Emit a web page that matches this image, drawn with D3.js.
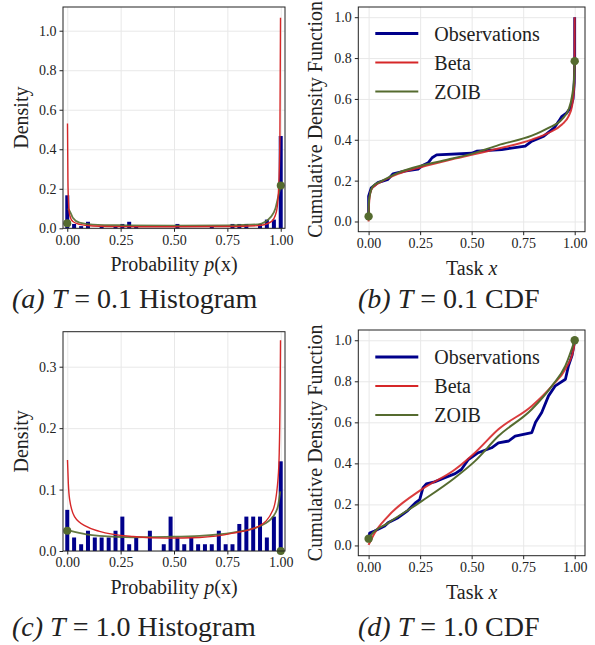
<!doctype html>
<html>
<head>
<meta charset="utf-8"/>
<script src="https://cdnjs.cloudflare.com/ajax/libs/d3/7.8.5/d3.min.js"></script>
<style>
  body { margin: 0; background: #fff; }
  text { font-family: "Liberation Serif", "DejaVu Serif", serif; fill: #222; }
  .grid line { stroke: #e8e8e8; stroke-width: 1; }
  .grid path { display: none; }
  .axis path { display: none; }
  .axis line { stroke: #222; }
  .axis text { font-size: 14px; }
  .frame { fill: none; stroke: #222; stroke-width: 1; }
</style>
</head>
<body>
<svg width="595" height="645"></svg>
<script>
// histogram bins (bar centres) and densities
var binCenters = [0.000,0.032,0.065,0.097,0.129,0.161,0.194,0.226,0.258,0.290,0.323,0.355,0.387,0.419,0.452,0.484,
                  0.516,0.548,0.581,0.613,0.645,0.677,0.710,0.742,0.774,0.806,0.839,0.871,0.903,0.935,0.968,1.000];
var histT01 = [0.167,0.022,0.011,0.033,0,0.011,0,0.011,0.022,0.033,0.011,0,0,0,0,0,
               0.022,0,0,0,0,0.011,0,0,0.022,0.022,0.022,0,0.022,0.044,0.044,0.467];
var histT10 = [0.067,0.022,0.011,0.033,0.022,0.022,0.022,0.033,0.056,0.011,0.022,0,0.033,0,0.011,0.056,
               0.022,0.011,0.022,0.011,0.011,0.011,0.033,0.011,0.011,0.044,0.056,0.056,0.056,0.022,0.056,0.146];

// fitted densities [x, density]
var betaPdfT01 = [[0.001,0.53],[0.003,0.25],[0.006,0.13],[0.011,0.068],[0.026,0.034],[0.057,0.02],[0.12,0.012],
                  [0.27,0.0085],[0.5,0.0075],[0.75,0.009],[0.894,0.0135],[0.956,0.034],[0.98,0.085],[0.99,0.2],
                  [0.996,0.45],[0.999,1.065]];
var zoibPdfT01 = [[0.003,0.1],[0.011,0.088],[0.026,0.054],[0.057,0.029],[0.12,0.019],[0.27,0.015],[0.5,0.013],
                  [0.75,0.015],[0.894,0.02],[0.956,0.06],[0.975,0.1],[0.988,0.16],[1.0,0.216]];
var betaPdfT10 = [[0.001,0.148],[0.005,0.11],[0.011,0.084],[0.034,0.056],[0.089,0.04],[0.151,0.032],[0.308,0.0235],
                  [0.464,0.021],[0.62,0.022],[0.776,0.029],[0.9,0.041],[0.964,0.067],[0.987,0.116],[0.993,0.16],
                  [0.997,0.25],[0.999,0.343]];
var zoibPdfT10 = [[0.0,0.034],[0.011,0.033],[0.089,0.027],[0.151,0.0246],[0.308,0.0224],[0.464,0.023],[0.62,0.0246],
                  [0.776,0.03],[0.9,0.04],[0.964,0.056],[0.987,0.073],[0.998,0.097]];
var zoibMassT01 = [[0,0.025],[1,0.216]];
var zoibMassT10 = [[0,0.033],[1,0.0]];

// CDFs  [x, F(x)]
var obsCdfT01 = [[0,0.02],[0.0,0.124],[0.005,0.14],[0.013,0.165],[0.045,0.19],[0.094,0.206],[0.118,0.233],
                 [0.175,0.246],[0.24,0.256],[0.257,0.271],[0.289,0.287],[0.308,0.312],[0.33,0.326],[0.5,0.334],
                 [0.524,0.344],[0.646,0.352],[0.76,0.369],[0.792,0.393],[0.85,0.418],[0.9,0.458],[0.922,0.49],
                 [0.938,0.515],[0.96,0.53],[0.98,0.556],[0.992,0.6],[0.998,0.68],[1.0,0.79],[1.0,1.0]];
var betaCdfT01 = [[0,0],[0.001,0.06],[0.004,0.11],[0.013,0.155],[0.03,0.175],[0.062,0.195],[0.143,0.233],
                  [0.257,0.267],[0.386,0.3],[0.516,0.33],[0.63,0.357],[0.792,0.401],[0.873,0.434],[0.938,0.475],
                  [0.97,0.515],[0.987,0.564],[0.995,0.63],[0.998,0.68],[0.9995,0.8],[1.0,1.0]];
var zoibCdfT01 = [[0,0.025],[0.001,0.09],[0.005,0.124],[0.021,0.173],[0.062,0.197],[0.143,0.238],[0.257,0.274],
                  [0.386,0.303],[0.516,0.336],[0.63,0.374],[0.792,0.42],[0.873,0.458],[0.938,0.5],[0.97,0.548],
                  [0.987,0.613],[0.997,0.7],[1.0,0.785]];
var zoibMassCdfT01 = [[0,0.025],[1,0.785]];

var obsCdfT10 = [[0,0.033],[0.005,0.06],[0.029,0.07],[0.078,0.095],[0.094,0.11],[0.143,0.135],[0.19,0.17],
                 [0.23,0.21],[0.248,0.223],[0.264,0.282],[0.28,0.3],[0.32,0.31],[0.37,0.33],[0.42,0.35],[0.45,0.37],
                 [0.484,0.419],[0.532,0.452],[0.597,0.476],[0.63,0.5],[0.68,0.509],[0.711,0.533],[0.792,0.55],
                 [0.81,0.6],[0.84,0.648],[0.873,0.729],[0.906,0.778],[0.955,0.81],[0.97,0.876],[0.987,0.925],
                 [1.0,0.998]];
var betaCdfT10 = [[0,0.003],[0.029,0.06],[0.094,0.142],[0.256,0.272],[0.419,0.37],[0.516,0.452],[0.63,0.566],
                  [0.792,0.68],[0.89,0.778],[0.955,0.86],[0.995,0.958],[1.0,1.0]];
var zoibCdfT10 = [[0,0.033],[0.013,0.052],[0.094,0.109],[0.256,0.215],[0.419,0.33],[0.516,0.411],[0.63,0.533],
                  [0.792,0.664],[0.89,0.778],[0.955,0.876],[1.0,1.0]];
var zoibMassCdfT10 = [[0,0.033],[1,1.0]];

var xTicks = [0, 0.25, 0.5, 0.75, 1.0];
var cdfTicks = [0, 0.2, 0.4, 0.6, 0.8, 1.0];
var legendNames = ["Observations", "Beta", "ZOIB"];

var NAVY = "#00008b", RED = "#d62728", GREEN = "#556b2f";

var svg = d3.select("svg");
svg.append("clipPath").attr("id", "rowTop").append("rect").attr("x", 0).attr("y", 0).attr("width", 595).attr("height", 318);
svg.append("clipPath").attr("id", "rowBot").append("rect").attr("x", 0).attr("y", 320).attr("width", 595).attr("height", 325);

function panel(o) {
  var g = svg.append("g").attr("clip-path", "url(#" + o.clip + ")");
  var x = d3.scaleLinear().domain(o.xDom).range([o.left, o.right]);
  var y = d3.scaleLinear().domain(o.yDom).range([o.bottom, o.top]);
  var h = o.bottom - o.top, w = o.right - o.left;

  g.append("g").attr("class", "grid").attr("transform", "translate(0," + o.bottom + ")")
    .call(d3.axisBottom(x).tickValues(xTicks).tickSize(-h).tickFormat(""));
  g.append("g").attr("class", "grid").attr("transform", "translate(" + o.left + ",0)")
    .call(d3.axisLeft(y).tickValues(o.yTicks).tickSize(-w).tickFormat(""));

  g.append("g").attr("class", "axis").attr("transform", "translate(0," + o.bottom + ")")
    .call(d3.axisBottom(x).tickValues(xTicks).tickSize(3.5).tickPadding(3).tickFormat(d3.format(".2f")));
  g.append("g").attr("class", "axis").attr("transform", "translate(" + o.left + ",0)")
    .call(d3.axisLeft(y).tickValues(o.yTicks).tickSize(3.5).tickPadding(3).tickFormat(d3.format(".1f")));

  var inner = g.append("g");
  o.draw(inner, x, y);

  g.append("rect").attr("class", "frame")
    .attr("x", o.left).attr("y", o.top).attr("width", w).attr("height", h);

  var xl = g.append("text").attr("x", (o.left + o.right) / 2).attr("y", o.bottom + 43)
    .attr("text-anchor", "middle").style("font-size", "20px");
  xl.append("tspan").text(o.xLabel[0]);
  xl.append("tspan").style("font-style", "italic").text(o.xLabel[1]);
  if (o.xLabel[2]) xl.append("tspan").text(o.xLabel[2]);

  g.append("text").attr("transform", "translate(" + o.yLabelX + "," + ((o.top + o.bottom) / 2) + ") rotate(-90)")
    .attr("text-anchor", "middle").attr("dy", "0.35em").style("font-size", "20px").text(o.yLabel);

  var cap = g.append("text").attr("x", o.capX).attr("y", o.capY).style("font-size", "28px");
  cap.append("tspan").style("font-style", "italic").text(o.cap[0]);
  cap.append("tspan").text(" ");
  cap.append("tspan").style("font-style", "italic").text("T");
  cap.append("tspan").text(" = " + o.cap[1]);
}

function histDraw(hist, beta, zoib, mass) {
  return function (g, x, y) {
    var bw = 0.58 / 31;
    g.selectAll("rect.bar").data(binCenters).enter().append("rect").attr("class", "bar")
      .attr("x", function (d) { return x(d - bw / 2); })
      .attr("width", x(bw) - x(0))
      .attr("y", function (d, i) { return y(hist[i]); })
      .attr("height", function (d, i) { return y(0) - y(hist[i]); })
      .attr("fill", NAVY);
    var line = d3.line().x(function (d) { return x(d[0]); }).y(function (d) { return y(d[1]); }).curve(d3.curveMonotoneX);
    g.append("path").attr("d", line(zoib)).attr("fill", "none").attr("stroke", GREEN).attr("stroke-width", 1.8).attr("opacity", 0.9);
    g.append("path").attr("d", line(beta)).attr("fill", "none").attr("stroke", RED).attr("stroke-width", 1.4);
    g.selectAll("circle").data(mass).enter().append("circle")
      .attr("cx", function (d) { return x(d[0]); }).attr("cy", function (d) { return y(d[1]); })
      .attr("r", 4).attr("fill", GREEN);
  };
}

function cdfDraw(obs, beta, zoib, mass, legTop) {
  return function (g, x, y) {
    var lin = d3.line().x(function (d) { return x(d[0]); }).y(function (d) { return y(d[1]); });
    var smooth = d3.line().x(function (d) { return x(d[0]); }).y(function (d) { return y(d[1]); }).curve(d3.curveMonotoneX);
    g.append("path").attr("d", lin(obs)).attr("fill", "none").attr("stroke", NAVY).attr("stroke-width", 2.8)
      .attr("stroke-linejoin", "round");
    g.append("path").attr("d", smooth(beta)).attr("fill", "none").attr("stroke", RED).attr("stroke-width", 2).attr("opacity", 0.9);
    g.append("path").attr("d", smooth(zoib)).attr("fill", "none").attr("stroke", GREEN).attr("stroke-width", 2);
    g.selectAll("circle").data(mass).enter().append("circle")
      .attr("cx", function (d) { return x(d[0]); }).attr("cy", function (d) { return y(d[1]); })
      .attr("r", 4.2).attr("fill", GREEN);
    var colors = [NAVY, RED, GREEN], widths = [2.8, 2, 2];
    var lg = g.append("g").attr("transform", "translate(" + (x.range()[0] + 17) + "," + legTop + ")");
    legendNames.forEach(function (n, i) {
      lg.append("line").attr("x1", 0).attr("x2", 43).attr("y1", i * 29).attr("y2", i * 29)
        .attr("stroke", colors[i]).attr("stroke-width", widths[i]);
      lg.append("text").attr("x", 59).attr("y", i * 29).attr("dy", "0.35em").style("font-size", "20px").text(n);
    });
  };
}

panel({ clip: "rowTop", left: 63, right: 285, top: 7, bottom: 228.3, xDom: [-0.02, 1.02], yDom: [0, 1.12],
  yTicks: [0, 0.2, 0.4, 0.6, 0.8, 1.0], xLabel: ["Probability ", "p", "(x)"], yLabel: "Density", yLabelX: 21,
  cap: ["(a)", "0.1 Histogram"], capX: 12, capY: 308,
  draw: histDraw(histT01, betaPdfT01, zoibPdfT01, zoibMassT01) });

panel({ clip: "rowTop", left: 358.3, right: 585, top: 7, bottom: 231.7, xDom: [-0.05, 1.05], yDom: [-0.05, 1.05],
  yTicks: cdfTicks, xLabel: ["Task ", "x"], yLabel: "Cumulative Density Function", yLabelX: 315,
  cap: ["(b)", "0.1 CDF"], capX: 358, capY: 308,
  draw: cdfDraw(obsCdfT01, betaCdfT01, zoibCdfT01, zoibMassCdfT01, 33.5) });

panel({ clip: "rowBot", left: 63, right: 285, top: 331.7, bottom: 551, xDom: [-0.02, 1.02], yDom: [0, 0.357],
  yTicks: [0, 0.1, 0.2, 0.3], xLabel: ["Probability ", "p", "(x)"], yLabel: "Density", yLabelX: 21,
  cap: ["(c)", "1.0 Histogram"], capX: 12, capY: 636,
  draw: histDraw(histT10, betaPdfT10, zoibPdfT10, zoibMassT10) });

panel({ clip: "rowBot", left: 358.3, right: 585, top: 330, bottom: 555.7, xDom: [-0.05, 1.05], yDom: [-0.05, 1.05],
  yTicks: cdfTicks, xLabel: ["Task ", "x"], yLabel: "Cumulative Density Function", yLabelX: 315,
  cap: ["(d)", "1.0 CDF"], capX: 358, capY: 636,
  draw: cdfDraw(obsCdfT10, betaCdfT10, zoibCdfT10, zoibMassCdfT10, 357) });
</script>
</body>
</html>
